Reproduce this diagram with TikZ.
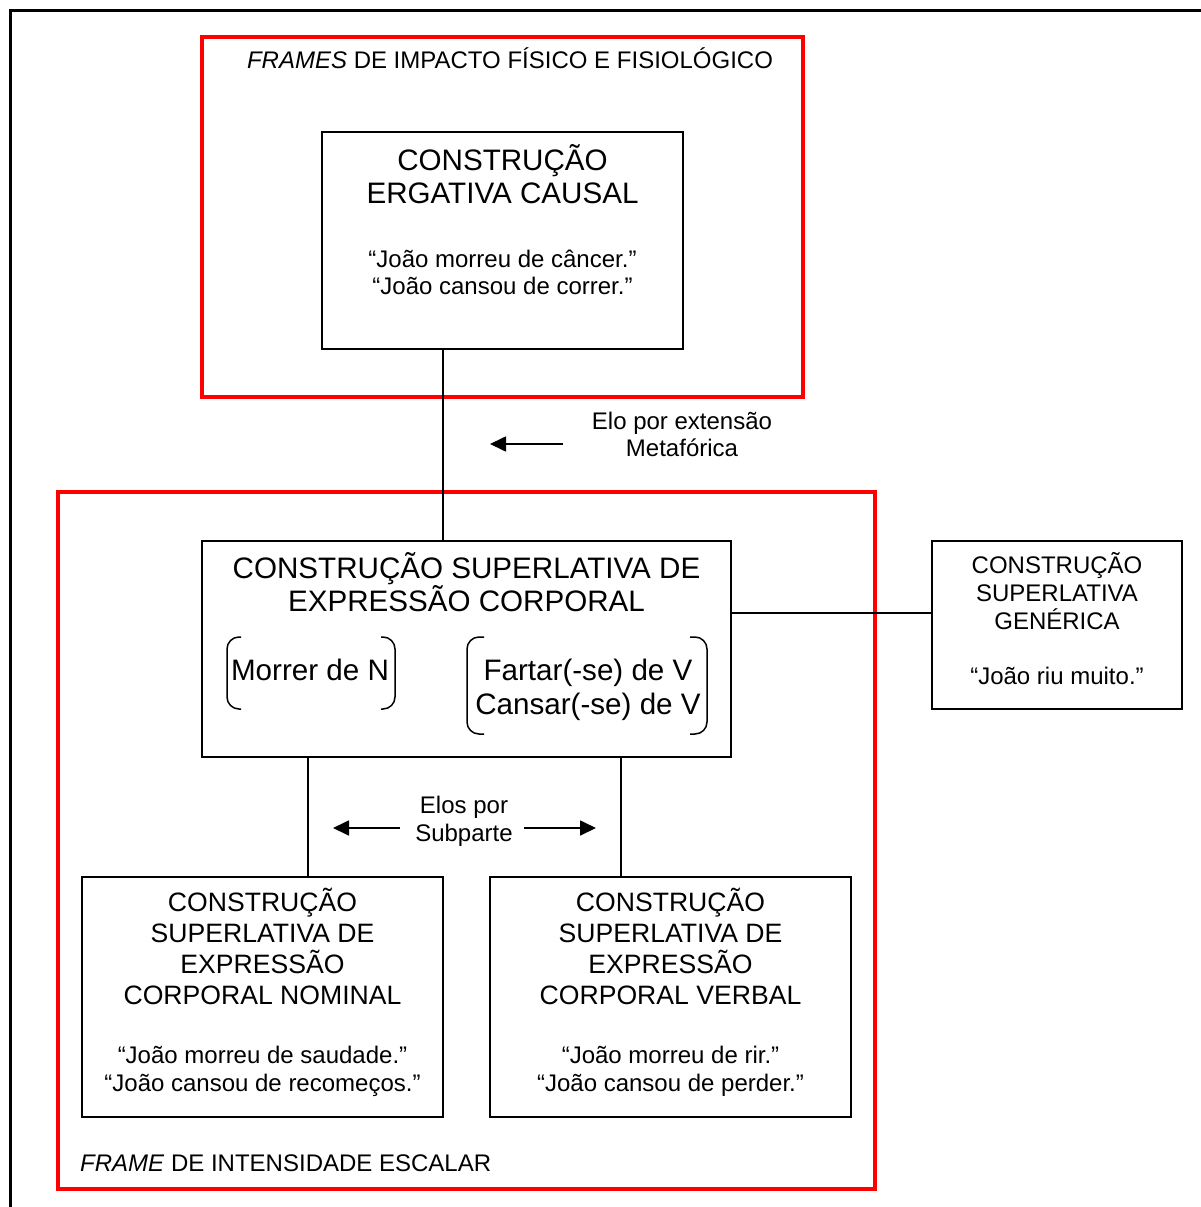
\documentclass[tikz,border=0pt]{standalone}
\usepackage{fontspec}
\setmainfont{Liberation Sans}
\usetikzlibrary{arrows.meta}
\begin{document}
\begin{tikzpicture}[x=1pt,y=-1pt,
 box/.style={draw, line width=1.7pt, inner sep=0pt},
 redframe/.style={draw=red, line width=3.4pt},
 big/.style={font=\fontsize{29.6}{33}\selectfont, anchor=base, inner sep=0pt},
 mid/.style={font=\fontsize{26.6}{31}\selectfont, anchor=base, inner sep=0pt},
 small/.style={font=\fontsize{24}{27}\selectfont, anchor=base, inner sep=0pt},
 link/.style={line width=1.7pt},
 arr/.style={line width=1.7pt, -{Triangle[length=16pt,width=15pt]}},
 brk/.style={line width=1.5pt, rounded corners=12pt}]

\useasboundingbox (0,0) rectangle (1201,1207);
\begin{scope}
\clip (0,0) rectangle (1201,1207);
\draw[line width=3pt] (10,1230) -- (10,11) -- (1230,11);
\end{scope}

% red frames
\draw[redframe] (202,37) rectangle (803,397);
\draw[redframe] (58,492) rectangle (875,1189);
\node[small] (lblTop) at (510,68) {\textit{FRAMES} DE IMPACTO FÍSICO E FISIOLÓGICO};
\node[small, anchor=base west] (lblBot) at (80,1171) {\textit{FRAME} DE INTENSIDADE ESCALAR};

% boxes
\node[box, minimum width=361pt, minimum height=217pt] (top) at (502.5,240.5) {};
\node[box, minimum width=529pt, minimum height=216pt] (midbox) at (466.5,649) {};
\node[box, minimum width=250pt, minimum height=168pt] (gen) at (1057,625) {};
\node[box, minimum width=361pt, minimum height=240pt] (ll) at (262.5,997) {};
\node[box, minimum width=361pt, minimum height=240pt] (lr) at (670.5,997) {};

% top box text
\node[big] (t1) at (502.5,170) {CONSTRUÇÃO};
\node[big] (t2) at (502.5,203) {ERGATIVA CAUSAL};
\node[small] (t3) at (502.5,267) {“João morreu de câncer.”};
\node[small] (t4) at (502.5,294) {“João cansou de correr.”};

% middle box text
\node[big] (m1) at (466.5,578) {CONSTRUÇÃO SUPERLATIVA DE};
\node[big] (m2) at (466.5,611) {EXPRESSÃO CORPORAL};
\node[big] (m3) at (310,680) {Morrer de N};
\node[big] (m4) at (588,680) {Fartar(-se) de V};
\node[big] (m5) at (588,714) {Cansar(-se) de V};
\draw[brk] (241,637) -- (227,637) -- (227,709) -- (241,709);
\draw[brk] (381,637) -- (395,637) -- (395,709) -- (381,709);
\draw[brk] (484,637) -- (467,637) -- (467,734) -- (484,734);
\draw[brk] (690,637) -- (707,637) -- (707,734) -- (690,734);

% generic box text
\node[small] (g1) at (1057,573) {CONSTRUÇÃO};
\node[small] (g2) at (1057,601) {SUPERLATIVA};
\node[small] (g3) at (1057,629) {GENÉRICA};
\node[small] (g4) at (1057,684) {“João riu muito.”};

% lower left
\node[mid] (a1) at (262.5,911) {CONSTRUÇÃO};
\node[mid] (a2) at (262.5,942) {SUPERLATIVA DE};
\node[mid] (a3) at (262.5,973) {EXPRESSÃO};
\node[mid] (a4) at (262.5,1004) {CORPORAL NOMINAL};
\node[small] (a5) at (262.5,1063) {“João morreu de saudade.”};
\node[small] (a6) at (262.5,1091) {“João cansou de recomeços.”};

% lower right
\node[mid] (b1) at (670.5,911) {CONSTRUÇÃO};
\node[mid] (b2) at (670.5,942) {SUPERLATIVA DE};
\node[mid] (b3) at (670.5,973) {EXPRESSÃO};
\node[mid] (b4) at (670.5,1004) {CORPORAL VERBAL};
\node[small] (b5) at (670.5,1063) {“João morreu de rir.”};
\node[small] (b6) at (670.5,1091) {“João cansou de perder.”};

% connectors
\coordinate (cx1) at (443,0);
\coordinate (cy2) at (0,613);
\coordinate (cx3) at (308,0);
\coordinate (cx4) at (621,0);
\draw[link] (cx1 |- top.south) -- (cx1 |- midbox.north);
\draw[link] (midbox.east |- cy2) -- (gen.west |- cy2);
\draw[link] (cx3 |- midbox.south) -- (cx3 |- ll.north);
\draw[link] (cx4 |- midbox.south) -- (cx4 |- lr.north);

% link labels
\node[small] (e1) at (682,429) {Elo por extensão};
\node[small] (e2) at (682,456) {Metafórica};
\coordinate (ea) at (563,444);
\coordinate (eb) at (490,444);
\draw[arr] (ea) -- (eb);

\node[small] (s1) at (464,813) {Elos por};
\node[small] (s2) at (464,841) {Subparte};
\coordinate (sa) at (400,828);
\coordinate (sb) at (333,828);
\coordinate (sc) at (524,828);
\coordinate (sd) at (596,828);
\draw[arr] (sa) -- (sb);
\draw[arr] (sc) -- (sd);
\end{tikzpicture}
\end{document}
